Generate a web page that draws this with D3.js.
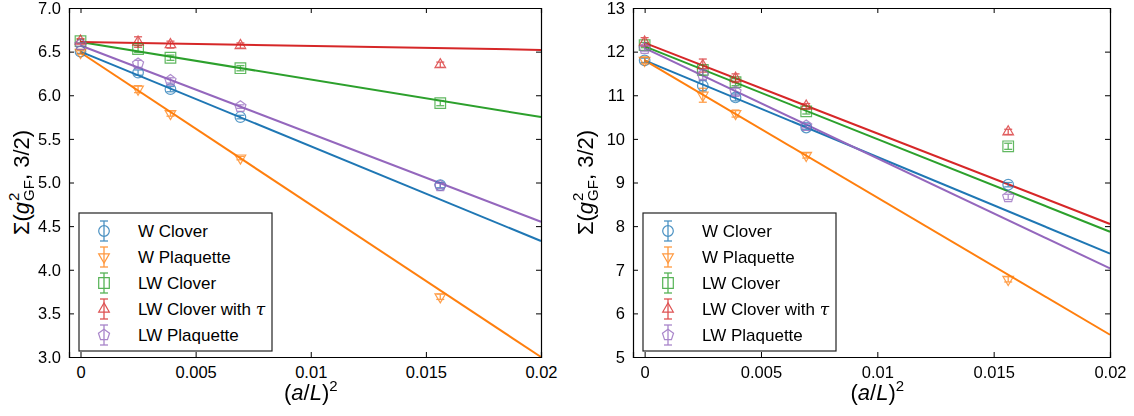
<!doctype html>
<html lang="en">
<head>
<meta charset="UTF-8">
<script src="https://cdnjs.cloudflare.com/ajax/libs/d3/7.8.5/d3.min.js"></script>
<title>Sigma extrapolation</title>
<style>
  body { margin: 0; background: #fff; }
  text { font-family: "Liberation Sans", "DejaVu Sans", sans-serif; fill: #000; }
</style>
</head>
<body>
<div id="Area"></div>
<script>
// lattice spacings (a/L)^2 for L/a = inf, 20, 16, 12, 8
const xs = [0, 0.0025, 0.00390625, 0.00694444, 0.015625];

const names = ["W Clover", "W Plaquette", "LW Clover", "LW Clover with τ", "LW Plaquette"];
const colors = ["#1f77b4", "#ff7f0e", "#2ca02c", "#d62728", "#9467bd"];
const shapes = ["circle", "tridown", "square", "triup", "pentagon"];

// left panel values
const leftVals = [
  [6.50, 6.26, 6.07, 5.75, 4.97],
  [6.49, 6.07, 5.79, 5.28, 3.69],
  [6.62, 6.53, 6.43, 6.31, 5.91],
  [6.62, 6.61, 6.58, 6.57, 6.35],
  [6.58, 6.36, 6.17, 5.87, 4.96]
];
const leftErr = [
  [0.02, 0.03, 0.03, 0.02, 0.03],
  [0.02, 0.04, 0.03, 0.02, 0.03],
  [0.02, 0.04, 0.03, 0.03, 0.03],
  [0.03, 0.06, 0.04, 0.03, 0.03],
  [0.02, 0.04, 0.03, 0.02, 0.03]
];
// fit lines: value at (a/L)^2 = 0 and at 0.02
const leftFit = [[6.50, 4.33], [6.49, 3.00], [6.61, 5.75], [6.61, 6.52], [6.57, 4.55]];

const rightVals = [
  [11.80, 11.22, 10.95, 10.26, 8.95],
  [11.80, 11.00, 10.58, 9.62, 6.78],
  [12.15, 11.58, 11.30, 10.63, 9.83],
  [12.22, 11.68, 11.39, 10.75, 10.16],
  [12.07, 11.47, 11.08, 10.30, 8.67]
];
const rightErr = [
  [0.05, 0.12, 0.08, 0.05, 0.05],
  [0.08, 0.16, 0.08, 0.06, 0.06],
  [0.06, 0.12, 0.08, 0.06, 0.07],
  [0.10, 0.15, 0.10, 0.06, 0.06],
  [0.06, 0.12, 0.08, 0.05, 0.06]
];
const rightFit = [[11.80, 7.37], [11.80, 5.51], [12.12, 7.87], [12.20, 8.05], [12.08, 7.03]];

const xTicks = [0, 0.005, 0.01, 0.015, 0.02];
const xTickLabels = ["0", "0.005", "0.01", "0.015", "0.02"];
const leftTicks = [3.0, 3.5, 4.0, 4.5, 5.0, 5.5, 6.0, 6.5, 7.0];
const rightTicks = [5, 6, 7, 8, 9, 10, 11, 12, 13];

const W = 1134, H = 416;
const svg = d3.select("#Area").append("svg")
    .attr("width", W).attr("height", H);

function markerPath(shape, s) {
    if (shape == "circle") return d3.symbol(d3.symbolCircle, Math.PI * s * s)();
    if (shape == "square") return `M${-s},${-s}H${s}V${s}H${-s}Z`;
    if (shape == "triup") { let r = s * 1.15; return `M0,${-r}L${r*0.87},${r*0.5}L${-r*0.87},${r*0.5}Z`; }
    if (shape == "tridown") { let r = s * 1.15; return `M0,${r}L${r*0.87},${-r*0.5}L${-r*0.87},${-r*0.5}Z`; }
    let r = s * 1.1, pts = [];
    for (let k = 0; k < 5; k++) {
        let a = -Math.PI / 2 + k * 2 * Math.PI / 5;
        pts.push([r * Math.cos(a), r * Math.sin(a)]);
    }
    return "M" + pts.join("L") + "Z";
}

function ylabel(g, cx, cy) {
    // Σ(g^2_GF, 3/2) rotated
    const t = g.append("g").attr("transform", `translate(${cx},${cy}) rotate(-90)`);
    let a = t.append("text").attr("font-size", 22).text("Σ(");
    let w1 = a.node().getComputedTextLength();
    let gg = t.append("text").attr("font-size", 22).attr("x", w1).attr("font-style", "italic").text("g");
    let w2 = w1 + gg.node().getComputedTextLength() + 1;
    let sup = t.append("text").attr("font-size", 15).attr("x", w2).attr("y", -10).text("2");
    let sub = t.append("text").attr("font-size", 15).attr("x", w2).attr("y", 5).text("GF");
    let w3 = w2 + Math.max(sup.node().getComputedTextLength(), sub.node().getComputedTextLength());
    let rest = t.append("text").attr("font-size", 22).attr("x", w3).text(", 3/2)");
    let total = w3 + rest.node().getComputedTextLength();
    t.selectAll("text").attr("transform", `translate(${-total / 2},7)`);
}

function xlabel(g, cx, y) {
    const t = g.append("text").attr("x", cx).attr("y", y).attr("font-size", 22).attr("text-anchor", "middle");
    t.append("tspan").text("(");
    t.append("tspan").attr("font-style", "italic").text("a");
    t.append("tspan").text("/");
    t.append("tspan").attr("font-style", "italic").text("L");
    t.append("tspan").text(")");
    t.append("tspan").attr("font-size", 15).attr("dy", -9).text("2");
}

function panel(x0, x1, yDomain, yTicks, yFmt, vals, errs, fits) {
    const top = 8, bottom = 357;
    const x = d3.scaleLinear().domain([-0.0005, 0.02]).range([x0, x1]);
    const y = d3.scaleLinear().domain(yDomain).range([bottom, top]);
    const g = svg.append("g");

    // fit lines
    fits.forEach((f, i) => {
        g.append("path")
            .attr("d", d3.line()([[x(0), y(f[0])], [x(0.02), y(f[1])]]))
            .attr("stroke", colors[i]).attr("stroke-width", 2).attr("fill", "none");
    });

    // data with error bars
    vals.forEach((vs, i) => {
        const s = g.append("g").attr("stroke", colors[i]).attr("fill", "none").attr("opacity", 0.75);
        vs.forEach((v, j) => {
            const px = x(xs[j]), e = errs[i][j];
            s.append("line").attr("x1", px).attr("x2", px).attr("y1", y(v - e)).attr("y2", y(v + e)).attr("stroke-width", 1.3);
            [v - e, v + e].forEach(c => s.append("line").attr("x1", px - 4).attr("x2", px + 4)
                .attr("y1", y(c)).attr("y2", y(c)).attr("stroke-width", 1.3));
            s.append("path").attr("d", markerPath(shapes[i], 5.3))
                .attr("transform", `translate(${px},${y(v)})`).attr("stroke-width", 1.2);
        });
    });

    // axes: inside ticks all around
    const ax = d3.axisBottom(x).tickValues(xTicks).tickSize(-5).tickFormat((d, i) => xTickLabels[i]).tickPadding(9);
    const axTop = d3.axisTop(x).tickValues(xTicks).tickSize(-5).tickFormat("");
    const ay = d3.axisLeft(y).tickValues(yTicks).tickSize(-5).tickFormat(yFmt).tickPadding(8);
    const ayR = d3.axisRight(y).tickValues(yTicks).tickSize(-5).tickFormat("");
    [[ax, `translate(0,${bottom})`], [axTop, `translate(0,${top})`],
     [ay, `translate(${x0},0)`], [ayR, `translate(${x1},0)`]].forEach(([a, tr]) => {
        const gg = g.append("g").attr("transform", tr).call(a);
        gg.selectAll("path.domain").attr("stroke", "#000").attr("stroke-width", 1.2);
        gg.selectAll("line").attr("stroke", "#000").attr("stroke-width", 1);
        gg.selectAll("text").attr("font-size", 16.5).attr("font-family", "Liberation Sans, sans-serif").attr("fill", "#000");
    });

    // legend
    const lx = x0 + 10, ly = 213;
    const lg = g.append("g").attr("transform", `translate(${lx},${ly})`);
    lg.append("rect").attr("width", 193).attr("height", 138).attr("fill", "#fff").attr("stroke", "#222").attr("stroke-width", 1.2);
    names.forEach((n, i) => {
        const cy = 18 + i * 26;
        const s = lg.append("g").attr("stroke", colors[i]).attr("fill", "none").attr("opacity", 0.8);
        s.append("line").attr("x1", 25).attr("x2", 25).attr("y1", cy - 10).attr("y2", cy + 10).attr("stroke-width", 1.3);
        [cy - 10, cy + 10].forEach(c => s.append("line").attr("x1", 21).attr("x2", 29).attr("y1", c).attr("y2", c).attr("stroke-width", 1.3));
        s.append("path").attr("d", markerPath(shapes[i], 5.3)).attr("transform", `translate(25,${cy})`).attr("stroke-width", 1.2);
        const t = lg.append("text").attr("x", 59).attr("y", cy + 6).attr("font-size", 17);
        if (n.endsWith("τ")) {
            t.append("tspan").text(n.slice(0, -1));
            t.append("tspan").attr("font-style", "italic").attr("font-family", "DejaVu Serif, serif").text("τ");
        } else t.text(n);
    });

    ylabel(g, x0 - 47, (top + bottom) / 2);
    xlabel(g, (x(0) + x(0.02)) / 2, 400);
}

panel(69, 541, [3, 7], leftTicks, d3.format(".1f"), leftVals, leftErr, leftFit);
panel(633, 1110, [5, 13], rightTicks, d3.format("d"), rightVals, rightErr, rightFit);
</script>
</body>
</html>
